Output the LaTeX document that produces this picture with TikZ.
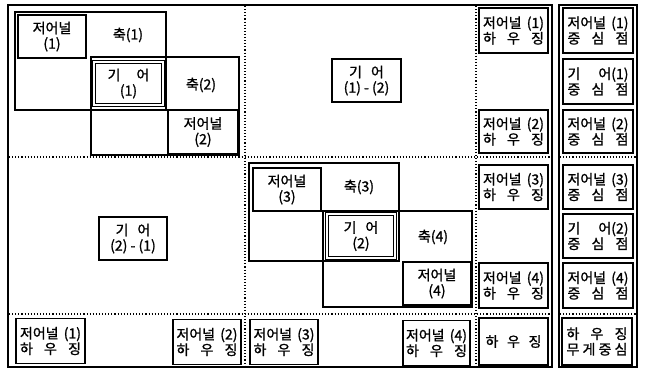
\documentclass[tikz,border=0pt]{standalone}
\usepackage{fontspec}
\setmainfont{Noto Sans CJK KR}[AutoFakeBold=1.2]
\newcommand\fs{\fontsize{14}{15.5}\selectfont\bfseries}
\newcommand\tlines[3][61pt]{\vbox{\hbox to #1{#2}\hbox to #1{#3}}}
\begin{document}
\begin{tikzpicture}[x=1pt,y=-1pt,
  frm/.style={line width=1.8pt},
  grp/.style={line width=1.4pt},
  gridl/.style={dotted, line width=1.1pt},
  bx/.style={draw, line width=1.8pt, inner sep=0pt, align=center, font=\fs},
  gearbx/.style={bx, double, double distance=1.4pt, line width=0.9pt},
  lbl/.style={inner sep=0pt, font=\fs}]
\useasboundingbox (0,0) rectangle (645,372);
% frames
\draw[frm] (8,5) rectangle (552,367);
\draw[frm] (559,5) rectangle (637,367);
% dotted grid
\draw[gridl] (245,6) -- (245,366);
\draw[gridl] (476,6) -- (476,366);
\draw[gridl] (9,157) -- (551,157);
\draw[gridl] (9,314) -- (551,314);
\draw[gridl] (560,157) -- (636,157);
\draw[gridl] (560,314) -- (636,314);
% group rectangles
\draw[grp] (15,12) rectangle (166,110);
\draw[grp] (91,57) rectangle (239,155);
\draw[grp] (249,163) rectangle (399,261);
\draw[grp] (323,211) rectangle (472,307);
% axis labels
\node[lbl] (ax1) at (128,35) {축(1)};
\node[lbl] (ax2) at (201,85) {축(2)};
\node[lbl] (ax3) at (359,187) {축(3)};
\node[lbl] (ax4) at (433,237) {축(4)};
% journals and gears
\node[bx, minimum width=68, minimum height=43] (j1) at (52,36.5) {저어널\\(1)};
\node[gearbx, minimum width=69, minimum height=43] (g1) at (128.5,83.5) {기\hspace{16pt}어\\(1)};
\node[bx, minimum width=70, minimum height=44] (j2) at (203,132) {저어널\\(2)};
\node[bx, line width=1.5pt, minimum width=69, minimum height=43] (g12) at (366.5,80.5) {기\hspace{9pt}어\\(1) - (2)};
\node[bx, line width=1.5pt, minimum width=68, minimum height=43] (g21) at (133,238.5) {기\hspace{9pt}어\\(2) - (1)};
\node[bx, minimum width=68, minimum height=43] (j3) at (287,189.5) {저어널\\(3)};
\node[gearbx, minimum width=68, minimum height=44] (g2) at (361,236) {기\hspace{9pt}어\\(2)};
\node[bx, minimum width=68, minimum height=43] (j4) at (437,283.5) {저어널\\(4)};
% housing column
\node[bx, minimum width=69, minimum height=45] (h1) at (513.5,30.5) {\tlines{저어널\hfill(1)}{하\hfill 우\hfill 징}};
\node[bx, minimum width=69, minimum height=43] (h2) at (513.5,131.5) {\tlines{저어널\hfill(2)}{하\hfill 우\hfill 징}};
\node[bx, minimum width=69, minimum height=44] (h3) at (513.5,187) {\tlines{저어널\hfill(3)}{하\hfill 우\hfill 징}};
\node[bx, minimum width=69, minimum height=45] (h4) at (513.5,285.5) {\tlines{저어널\hfill(4)}{하\hfill 우\hfill 징}};
% centre column
\node[bx, minimum width=70, minimum height=45] (c1) at (598,30.5) {\tlines{저어널\hfill(1)}{중\hfill 심\hfill 점}};
\node[bx, minimum width=70, minimum height=45] (cg1) at (598,81.5) {\tlines{기\hfill 어(1)}{중\hfill 심\hfill 점}};
\node[bx, minimum width=70, minimum height=43] (c2) at (598,131.5) {\tlines{저어널\hfill(2)}{중\hfill 심\hfill 점}};
\node[bx, minimum width=70, minimum height=44] (c3) at (598,187) {\tlines{저어널\hfill(3)}{중\hfill 심\hfill 점}};
\node[bx, minimum width=70, minimum height=44] (cg2) at (598,236) {\tlines{기\hfill 어(2)}{중\hfill 심\hfill 점}};
\node[bx, minimum width=70, minimum height=45] (c4) at (598,285.5) {\tlines{저어널\hfill(4)}{중\hfill 심\hfill 점}};
% bottom row
\node[bx, minimum width=69, minimum height=45] (bh1) at (50.5,341) {\tlines{저어널\hfill(1)}{하\hfill 우\hfill 징}};
\node[bx, minimum width=68, minimum height=45] (bh2) at (207,342) {\tlines{저어널\hfill(2)}{하\hfill 우\hfill 징}};
\node[bx, minimum width=68, minimum height=45] (bh3) at (284,342) {\tlines{저어널\hfill(3)}{하\hfill 우\hfill 징}};
\node[bx, minimum width=67, minimum height=45] (bh4) at (436.5,343) {\tlines{저어널\hfill(4)}{하\hfill 우\hfill 징}};
\node[bx, minimum width=69, minimum height=47] (bh) at (513.5,341.5) {\hbox to 56pt{하\hfill 우\hfill 징}};
\node[bx, minimum width=70, minimum height=47] (bcg) at (597,341.5) {\tlines{하\hfill 우\hfill 징}{무\hfill 게\hfill 중\hfill 심}};
\end{tikzpicture}
\end{document}
